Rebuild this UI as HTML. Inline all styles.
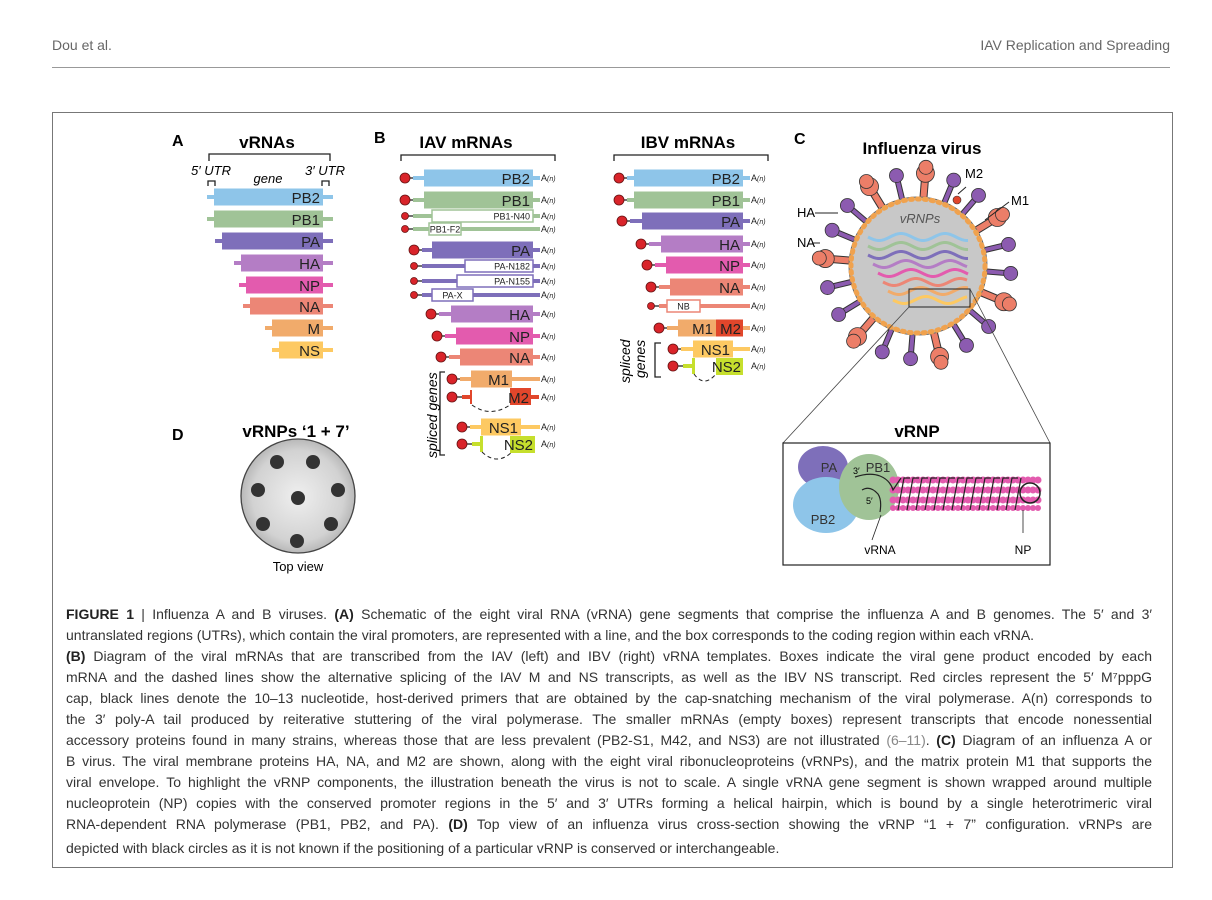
<!DOCTYPE html>
<html><head><meta charset="utf-8">
<style>
body{margin:0;background:#fff;width:1212px;height:900px;position:relative;overflow:hidden;font-family:"Liberation Sans",Arial,sans-serif;}
.hd{position:absolute;top:37px;font-size:14px;color:#666;}
.cap{position:absolute;left:66px;width:1086px;font-size:14px;color:#333;white-space:nowrap;line-height:16px;text-align:justify;text-align-last:justify;}
.cap.s{text-align-last:left;width:auto}
.cap b{color:#222}
svg{position:absolute;left:0;top:0}
</style></head><body>
<div class="hd" style="left:52px">Dou et al.</div>
<div class="hd" style="right:42px">IAV Replication and Spreading</div>
<div style="position:absolute;left:52px;top:67px;width:1118px;height:1px;background:#999"></div>
<div style="position:absolute;left:52px;top:112px;width:1119px;height:754px;border:1px solid #777"></div>
<svg id="s" width="1212" height="900" font-family="Liberation Sans,Arial,sans-serif"></svg>
<div class="cap" style="top:606px"><b>FIGURE 1</b> | Influenza A and B viruses. <b>(A)</b> Schematic of the eight viral RNA (vRNA) gene segments that comprise the influenza A and B genomes. The 5′ and 3′</div>
<div class="cap s" style="top:627px">untranslated regions (UTRs), which contain the viral promoters, are represented with a line, and the box corresponds to the coding region within each vRNA.</div>
<div class="cap" style="top:648px"><b>(B)</b> Diagram of the viral mRNAs that are transcribed from the IAV (left) and IBV (right) vRNA templates. Boxes indicate the viral gene product encoded by each</div>
<div class="cap" style="top:669px">mRNA and the dashed lines show the alternative splicing of the IAV M and NS transcripts, as well as the IBV NS transcript. Red circles represent the 5′ M⁷pppG</div>
<div class="cap" style="top:690px">cap, black lines denote the 10–13 nucleotide, host-derived primers that are obtained by the cap-snatching mechanism of the viral polymerase. A(n) corresponds to</div>
<div class="cap" style="top:711px">the 3′ poly-A tail produced by reiterative stuttering of the viral polymerase. The smaller mRNAs (empty boxes) represent transcripts that encode nonessential</div>
<div class="cap" style="top:732px">accessory proteins found in many strains, whereas those that are less prevalent (PB2-S1, M42, and NS3) are not illustrated <span style="color:#888">(6–11)</span>. <b>(C)</b> Diagram of an influenza A or</div>
<div class="cap" style="top:753px">B virus. The viral membrane proteins HA, NA, and M2 are shown, along with the eight viral ribonucleoproteins (vRNPs), and the matrix protein M1 that supports the</div>
<div class="cap" style="top:774px">viral envelope. To highlight the vRNP components, the illustration beneath the virus is not to scale. A single vRNA gene segment is shown wrapped around multiple</div>
<div class="cap" style="top:795px">nucleoprotein (NP) copies with the conserved promoter regions in the 5′ and 3′ UTRs forming a helical hairpin, which is bound by a single heterotrimeric viral</div>
<div class="cap" style="top:816px">RNA-dependent RNA polymerase (PB1, PB2, and PA). <b>(D)</b> Top view of an influenza virus cross-section showing the vRNP “1 + 7” configuration. vRNPs are</div>
<div class="cap s" style="top:840px">depicted with black circles as it is not known if the positioning of a particular vRNP is conserved or interchangeable.</div>
<script>
var o='';
function t(x,y,s,sz,extra){o+='<text x="'+x+'" y="'+y+'" font-size="'+sz+'" '+(extra||'')+'>'+s+'</text>';}
function r(x,y,w,h,f,extra){o+='<rect x="'+x+'" y="'+y+'" width="'+w+'" height="'+h+'" fill="'+f+'" '+(extra||'')+'/>';}
function l(x1,y1,x2,y2,c,w,extra){o+='<line x1="'+x1+'" y1="'+y1+'" x2="'+x2+'" y2="'+y2+'" stroke="'+c+'" stroke-width="'+w+'" '+(extra||'')+'/>';}
function c(x,y,rr,f,extra){o+='<circle cx="'+x+'" cy="'+y+'" r="'+rr+'" fill="'+f+'" '+(extra||'')+'/>';}
var C={PB2:'#8ec5e9',PB1:'#a0c397',PA:'#7e6fba',HA:'#b47dc5',NP:'#e35bae',NA:'#ec8676',M:'#f1ab6b',NS:'#fdc962',M2:'#e1462b',NS2:'#c6df2d'};
// Panel A
t(172,146,'A',16,'font-weight="bold"');t(267,148,'vRNAs',17,'font-weight="bold" text-anchor="middle"');
o+='<path d="M209,161 V154 H330 V161" fill="none" stroke="#222" stroke-width="1.3"/>';
t(191,175,'5′ UTR',13,'font-style="italic"');t(305,175,'3′ UTR',13,'font-style="italic"');t(268,183,'gene',13,'font-style="italic" text-anchor="middle"');
o+='<path d="M208,186 V181 H215 V186 M322,186 V181 H329 V186" fill="none" stroke="#222" stroke-width="1.3"/>';
var A=[['PB2',197,214],['PB1',219,214],['PA',241,222],['HA',263,241],['NP',285,246],['NA',306,250],['M',328,272],['NS',350,279]];
A.forEach(function(a){var col=C[a[0]];r(a[2]-7,a[1]-2,340-a[2],4,col);r(a[2],a[1]-8.5,323-a[2],17,col);t(320,a[1]+6,a[0],15,'text-anchor="end" fill="#222"');});
// Panel B IAV
t(374,143,'B',16,'font-weight="bold"');t(466,148,'IAV mRNAs',17,'font-weight="bold" text-anchor="middle"');
o+='<path d="M401,161 V155 H555 V161" fill="none" stroke="#222" stroke-width="1.3"/>';
function row(y,cx,big,col,x1,x2,lbl,end,box,lineEnd){var cr=big?5:3.5;l(cx,y,cx+8,y,'#222',1.3);r(cx+8,y-2,(lineEnd||end+7)-cx-8,4,col);
 if(box){r(x1,y-(big?8.5:6),x2-x1,big?17:12,'#fff','stroke="'+col+'" stroke-width="1.5"');t(box=='c'?(x1+x2)/2:x2-3,y+3.5,lbl,9,(box=='c'?'text-anchor="middle"':'text-anchor="end"')+' fill="#222"');}
 else {r(x1,y-8.5,x2-x1,17,col);t(x2-3,y+6,lbl,15,'text-anchor="end" fill="#222"');}
 c(cx,y,cr,'#d9242a','stroke="#611" stroke-width="0.8"');}
function an(x,y){t(x,y+3,'A<tspan font-style="italic" font-size="7">(n)</tspan>',9,'fill="#222"');}
row(178,405,1,C.PB2,424,533,'PB2',533);an(541,178);
row(200,405,1,C.PB1,424,533,'PB1',533);an(541,200);
row(216,405,0,C.PB1,432,533,'PB1-N40',533,'e');an(541,216);
row(229,405,0,C.PB1,429,461,'PB1-F2',533,'c',540);an(541,229);
row(250,414,1,C.PA,432,533,'PA',533);an(541,250);
row(266,414,0,C.PA,465,533,'PA-N182',533,'e');an(541,266);
row(281,414,0,C.PA,457,533,'PA-N155',533,'e');an(541,281);
row(295,414,0,C.PA,432,473,'PA-X',533,'c',540);an(541,295);
row(314,431,1,C.HA,451,533,'HA',533);an(541,314);
row(336,437,1,C.NP,456,533,'NP',533);an(541,336);
row(357,441,1,C.NA,460,533,'NA',533);an(541,357);
row(379,452,1,C.M,471,512,'M1',533,0,540);an(541,379);
l(452,397,462,397,'#222',1.3);r(462,395,10,4,C.M2);r(470,390,2,14,C.M2);r(510,388,21,17,C.M2);r(531,395,8,4,C.M2);t(529,403,'M2',15,'text-anchor="end" fill="#222"');c(452,397,5,'#d9242a','stroke="#611" stroke-width="0.8"');an(541,397);
o+='<path d="M472,405 Q490,418 510,405" fill="none" stroke="#222" stroke-dasharray="4,3"/>';
row(427,462,1,C.NS,481,521,'NS1',533,0,540);an(541,427);
l(462,444,472,444,'#222',1.3);r(472,442,10,4,C.NS2);r(480,436,3,16,C.NS2);r(510,436,25,17,C.NS2);t(533,450,'NS2',15,'text-anchor="end" fill="#222"');c(462,444,5,'#d9242a','stroke="#611" stroke-width="0.8"');an(541,444);
o+='<path d="M482,452 Q497,466 512,452" fill="none" stroke="#222" stroke-dasharray="4,3"/>';
o+='<path d="M445,372 H440 V455 H445" fill="none" stroke="#222" stroke-width="1.3"/>';
t(0,0,'spliced genes',14,'font-style="italic" transform="translate(437,458) rotate(-90)"');
// IBV
t(688,148,'IBV mRNAs',17,'font-weight="bold" text-anchor="middle"');
o+='<path d="M614,161 V155 H768 V161" fill="none" stroke="#222" stroke-width="1.3"/>';
row(178,619,1,C.PB2,634,743,'PB2',743);an(751,178);
row(200,619,1,C.PB1,634,743,'PB1',743);an(751,200);
row(221,622,1,C.PA,642,743,'PA',743);an(751,221);
row(244,641,1,C.HA,661,743,'HA',743);an(751,244);
row(265,647,1,C.NP,666,743,'NP',743);an(751,265);
row(287,651,1,C.NA,670,743,'NA',743);an(751,287);
row(306,651,0,C.NA,667,700,'NB',743,'c',750);an(751,306);
row(328,659,1,C.M,678,716,'M1',743);r(716,319.5,27,17,C.M2);t(741,334,'M2',15,'text-anchor="end" fill="#222"');an(751,328);
row(349,673,1,C.NS,693,733,'NS1',743,0,750);an(751,349);
l(673,366,683,366,'#222',1.3);r(683,364,10,4,C.NS2);r(692,358,3,16,C.NS2);r(716,358,27,17,C.NS2);t(741,372,'NS2',15,'text-anchor="end" fill="#222"');c(673,366,5,'#d9242a','stroke="#611" stroke-width="0.8"');an(751,366);
o+='<path d="M694,374 Q704,388 716,374" fill="none" stroke="#222" stroke-dasharray="4,3"/>';
o+='<path d="M661,343 H655 V377 H661" fill="none" stroke="#222" stroke-width="1.3"/>';
t(0,0,'spliced',14,'font-style="italic" transform="translate(630,383) rotate(-90)"');
t(0,0,'genes',14,'font-style="italic" transform="translate(645,378) rotate(-90)"');
// Panel C
t(794,144,'C',16,'font-weight="bold"');t(922,154,'Influenza virus',17,'font-weight="bold" text-anchor="middle"');
var cx=918,cy=266,R=69;
for(var i=0;i<20;i++){var a=-Math.PI/2+i*2*Math.PI/20+0.08;var na=(i%3==0);var col=na?'#ec7e68':'#8c5bb0';
 var x1=cx+R*Math.cos(a),y1=cy+R*Math.sin(a),x2=cx+(R+24)*Math.cos(a),y2=cy+(R+24)*Math.sin(a);
 l(x1,y1,x2,y2,'#333',na?8:6);l(x1,y1,x2,y2,col,na?6:4);
 if(na){c(x2,y2,9,col,'stroke="#333" stroke-width="0.8"');c(cx+(R+30)*Math.cos(a),cy+(R+30)*Math.sin(a),7,col,'stroke="#333" stroke-width="0.8"');}
 else{c(x2,y2,7,col,'stroke="#333" stroke-width="0.8"');}}
c(cx,cy,R,'#c8c8c8','stroke="#666" stroke-width="1"');
c(cx,cy,R-2,'none','stroke="#f0a24e" stroke-width="5" stroke-dasharray="2,5" stroke-linecap="round"');
t(920,223,'vRNPs',13,'font-style="italic" text-anchor="middle" fill="#555"');
var wc=[C.PB2,C.PB1,C.PA,C.HA,C.NP,C.NA,C.M,C.NS];
wc.forEach(function(col,k){var y=237+k*9,x0=868+(k>2?(k-2)*5:0),x1=968;var d='M'+x0+','+y;for(var x=x0;x<=x1;x+=2){d+=' L'+x+','+(y+3.5*Math.sin((x-x0)/7))}o+='<path d="'+d+'" fill="none" stroke="'+col+'" stroke-width="3"/>';});
r(909,289,61,18,'none','stroke="#222" stroke-width="1"');
l(909,307,783,443,'#444',0.8);l(970,289,1050,443,'#444',0.8);
t(965,178,'M2',13);t(1011,205,'M1',13);t(797,217,'HA',13);t(797,247,'NA',13);
l(815,213,838,213,'#222',1);l(813,243,820,243,'#222',1);l(966,187,958,194,'#222',1);l(1009,202,985,220,'#222',1);
c(957,200,4,'#e1462b','stroke="#333" stroke-width="0.6"');
t(917,437,'vRNP',17,'font-weight="bold" text-anchor="middle"');
r(783,443,267,122,'#fff','stroke="#222" stroke-width="1.2"');
o+='<ellipse cx="823" cy="467" rx="25" ry="21" fill="#7e6fba"/>';
o+='<ellipse cx="826" cy="505" rx="33" ry="28" fill="#8ec5e9"/>';
o+='<ellipse cx="869" cy="487" rx="30" ry="33" fill="#a0c397"/>';
t(829,472,'PA',13,'text-anchor="middle" fill="#333"');t(823,524,'PB2',13,'text-anchor="middle" fill="#333"');t(878,472,'PB1',13,'text-anchor="middle" fill="#333"');
t(853,474,'3′',9);t(866,504,'5′',9);
for(var x=893;x<=1040;x+=5){c(x,480,3.5,'#e35bae');c(x,490,3.5,'#e35bae');c(x,500,3.5,'#e35bae');c(x,508,3,'#e35bae');}
var d='M855,477 Q870,472 880,476 Q890,480 893,490';for(var x=895;x<1020;x+=9){d+=' L'+(x+6)+',478 M'+(x+3)+',510 L'+(x+9)+',478';}
o+='<path d="'+d+'" fill="none" stroke="#222" stroke-width="1.2"/>';
c(1030,493,10,'none','stroke="#222" stroke-width="1.5"');
o+='<path d="M880,512 Q882,500 878,494 Q870,485 862,490" fill="none" stroke="#222" stroke-width="1.2"/>';
l(881,515,872,540,'#222',0.8);l(1023,510,1023,533,'#222',0.8);
t(880,554,'vRNA',12,'text-anchor="middle"');t(1023,554,'NP',12,'text-anchor="middle"');
// Panel D
t(172,440,'D',16,'font-weight="bold"');t(296,437,'vRNPs ‘1 + 7’',17,'font-weight="bold" text-anchor="middle"');
o+='<defs><radialGradient id="g" cx="0.5" cy="0.5" r="0.5"><stop offset="0" stop-color="#efefef"/><stop offset="0.8" stop-color="#d2d2d2"/><stop offset="1" stop-color="#b8b8b8"/></radialGradient></defs>';
c(298,496,57,'url(#g)','stroke="#444" stroke-width="1.3"');
[[298,498],[277,462],[313,462],[258,490],[338,490],[263,524],[331,524],[297,541]].forEach(function(p){c(p[0],p[1],7,'#333');});
t(298,571,'Top view',13,'text-anchor="middle"');
document.getElementById('s').innerHTML=o;
</script>
</body></html>
